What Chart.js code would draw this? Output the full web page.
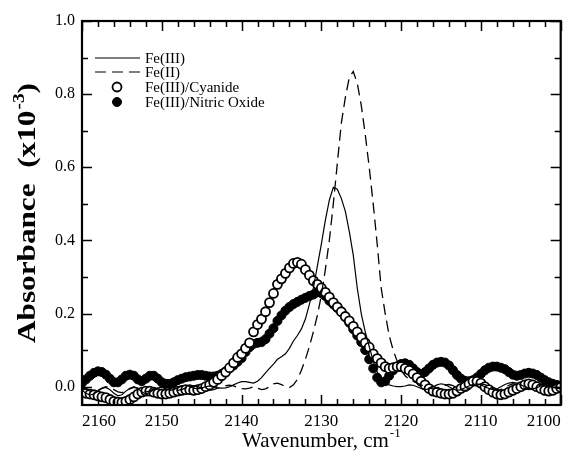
<!DOCTYPE html>
<html>
<head>
<meta charset="utf-8">
<script src="https://cdn.jsdelivr.net/npm/chart.js@4.4.1/dist/chart.umd.min.js"></script>
<style>
  html, body { margin: 0; padding: 0; background: #fff; }
</style>
</head>
<body>
<canvas id="myChart" width="567" height="455"></canvas>
<script>
// wavenumber grid (cm-1), every 0.5
var wavenumbers = [
  2160, 2159.5, 2159, 2158.5, 2158, 2157.5, 2157, 2156.5, 2156, 2155.5,
  2155, 2154.5, 2154, 2153.5, 2153, 2152.5, 2152, 2151.5, 2151, 2150.5,
  2150, 2149.5, 2149, 2148.5, 2148, 2147.5, 2147, 2146.5, 2146, 2145.5,
  2145, 2144.5, 2144, 2143.5, 2143, 2142.5, 2142, 2141.5, 2141, 2140.5,
  2140, 2139.5, 2139, 2138.5, 2138, 2137.5, 2137, 2136.5, 2136, 2135.5,
  2135, 2134.5, 2134, 2133.5, 2133, 2132.5, 2132, 2131.5, 2131, 2130.5,
  2130, 2129.5, 2129, 2128.5, 2128, 2127.5, 2127, 2126.5, 2126, 2125.5,
  2125, 2124.5, 2124, 2123.5, 2123, 2122.5, 2122, 2121.5, 2121, 2120.5,
  2120, 2119.5, 2119, 2118.5, 2118, 2117.5, 2117, 2116.5, 2116, 2115.5,
  2115, 2114.5, 2114, 2113.5, 2113, 2112.5, 2112, 2111.5, 2111, 2110.5,
  2110, 2109.5, 2109, 2108.5, 2108, 2107.5, 2107, 2106.5, 2106, 2105.5,
  2105, 2104.5, 2104, 2103.5, 2103, 2102.5, 2102, 2101.5, 2101, 2100.5,
  2100
];

// Fe(III) - solid line
var fe3 = [
  -0.010, -0.018, -0.022, -0.020, -0.012, -0.005, -0.002, -0.008, -0.018, -0.025,
  -0.022, -0.012, -0.004, 0.000, -0.005, -0.014, -0.020, -0.016, -0.008, -0.003,
  -0.002, -0.006, -0.010, -0.008, -0.003, 0.002, 0.004, 0.000, -0.004, -0.006,
  -0.003, 0.000, 0.002, 0.000, -0.003, -0.004, -0.003, 0.000, 0.005, 0.010,
  0.014, 0.014, 0.012, 0.010, 0.015, 0.025, 0.038, 0.050, 0.062, 0.075,
  0.082, 0.090, 0.105, 0.125, 0.140, 0.158, 0.185, 0.225, 0.270, 0.330,
  0.390, 0.455, 0.510, 0.545, 0.540, 0.515, 0.480, 0.425, 0.360, 0.270,
  0.200, 0.150, 0.110, 0.070, 0.040, 0.020, 0.010, 0.005, 0.002, 0.000,
  0.000, 0.002, 0.005, 0.004, 0.000, -0.005, -0.008, -0.006, 0.000, 0.005,
  0.008, 0.006, 0.000, -0.006, -0.010, -0.008, -0.003, 0.002, 0.006, 0.008,
  0.005, 0.000, -0.005, -0.008, -0.006, 0.000, 0.006, 0.010, 0.012, 0.010,
  0.005, 0.000, -0.004, -0.006, -0.003, 0.002, 0.006, 0.008, 0.005, 0.000,
  -0.004
];

// Fe(II) - dashed line
var fe2 = [
  0.000, -0.006, -0.012, -0.014, -0.010, -0.004, 0.000, -0.002, -0.008, -0.014,
  -0.016, -0.012, -0.006, -0.002, -0.004, -0.010, -0.014, -0.012, -0.006, 0.000,
  0.003, 0.002, -0.003, -0.008, -0.010, -0.008, -0.003, 0.000, 0.002, 0.000,
  -0.004, -0.008, -0.010, -0.008, -0.004, 0.000, 0.003, 0.004, 0.002, -0.002,
  -0.005, -0.006, -0.004, 0.000, -0.004, -0.008, -0.006, 0.000, 0.008, 0.010,
  0.006, 0.000, -0.002, 0.005, 0.020, 0.045, 0.075, 0.110, 0.150, 0.195,
  0.250, 0.320, 0.400, 0.500, 0.610, 0.720, 0.790, 0.845, 0.862, 0.830,
  0.770, 0.690, 0.600, 0.500, 0.390, 0.270, 0.200, 0.140, 0.100, 0.070,
  0.045, 0.030, 0.020, 0.015, 0.010, 0.005, 0.000, -0.004, -0.006, -0.004,
  0.000, 0.004, 0.006, 0.003, -0.003, -0.008, -0.010, -0.008, -0.002, 0.004,
  0.008, 0.006, 0.000, -0.006, -0.010, -0.008, -0.002, 0.004, 0.008, 0.006,
  0.000, -0.005, -0.008, -0.006, 0.000, 0.005, 0.008, 0.005, 0.000, -0.004,
  -0.006
];

// Fe(III)/Cyanide - open circles
var cyanide = [
  -0.015, -0.018, -0.020, -0.022, -0.025, -0.028, -0.030, -0.035, -0.040, -0.042,
  -0.043, -0.040, -0.035, -0.028, -0.020, -0.015, -0.012, -0.012, -0.015, -0.018,
  -0.020, -0.020, -0.018, -0.015, -0.012, -0.010, -0.008, -0.008, -0.010, -0.008,
  -0.005, 0.000, 0.005, 0.012, 0.020, 0.030, 0.040, 0.052, 0.065, 0.080,
  0.090, 0.105, 0.120, 0.150, 0.170, 0.185, 0.205, 0.230, 0.255, 0.280,
  0.295, 0.310, 0.325, 0.337, 0.340, 0.335, 0.320, 0.305, 0.290, 0.280,
  0.270, 0.258, 0.245, 0.230, 0.218, 0.205, 0.192, 0.180, 0.165, 0.150,
  0.135, 0.120, 0.108, 0.090, 0.077, 0.065, 0.055, 0.050, 0.052, 0.055,
  0.055, 0.050, 0.045, 0.035, 0.025, 0.015, 0.005, -0.005, -0.012, -0.015,
  -0.018, -0.020, -0.020, -0.018, -0.012, -0.005, 0.000, 0.008, 0.015, 0.015,
  0.010, 0.000, -0.008, -0.015, -0.020, -0.022, -0.020, -0.015, -0.010, -0.005,
  0.000, 0.005, 0.008, 0.005, 0.000, -0.005, -0.010, -0.012, -0.010, -0.005,
  -0.002
];

// Fe(III)/Nitric Oxide - filled circles
var nitricOxide = [
  0.010, 0.020, 0.030, 0.038, 0.042, 0.040, 0.033, 0.022, 0.012, 0.012,
  0.020, 0.030, 0.033, 0.030, 0.020, 0.015, 0.022, 0.030, 0.030, 0.022,
  0.012, 0.008, 0.008, 0.012, 0.018, 0.022, 0.026, 0.028, 0.030, 0.032,
  0.032, 0.030, 0.028, 0.028, 0.030, 0.035, 0.042, 0.050, 0.058, 0.068,
  0.078, 0.095, 0.108, 0.117, 0.120, 0.122, 0.130, 0.145, 0.160, 0.180,
  0.195, 0.208, 0.218, 0.226, 0.232, 0.238, 0.243, 0.248, 0.252, 0.258,
  0.256, 0.248, 0.235, 0.225, 0.215, 0.205, 0.190, 0.175, 0.157, 0.140,
  0.122, 0.100, 0.075, 0.050, 0.025, 0.012, 0.015, 0.030, 0.045, 0.055,
  0.062, 0.064, 0.060, 0.050, 0.040, 0.035, 0.040, 0.050, 0.060, 0.066,
  0.068, 0.066, 0.058, 0.045, 0.032, 0.022, 0.016, 0.015, 0.018, 0.025,
  0.035, 0.045, 0.052, 0.055, 0.055, 0.052, 0.048, 0.040, 0.033, 0.030,
  0.032, 0.036, 0.038, 0.036, 0.032, 0.025, 0.018, 0.012, 0.008, 0.005,
  0.003
];

var seriesNames = ['Fe(III)', 'Fe(II)', 'Fe(III)/Cyanide', 'Fe(III)/Nitric Oxide'];
var xTicks = [2100, 2110, 2120, 2130, 2140, 2150, 2160];
var yTicks = [0.0, 0.2, 0.4, 0.6, 0.8, 1.0];
var xTitle = ['Wavenumber, cm', '-1'];
var yTitle = ['Absorbance  (x10', '-3', ')'];

var serif = '"Liberation Serif", "Times New Roman", serif';

function pts(vals) {
  return wavenumbers.map(function (w, i) { return { x: w, y: vals[i] }; });
}

// box frame with inward ticks on all four sides
var frameTicks = {
  id: 'frameTicks',
  afterDatasetsDraw: function (chart) {
    var ctx = chart.ctx, a = chart.chartArea;
    var sx = chart.scales.x, sy = chart.scales.y;
    ctx.save();
    ctx.strokeStyle = '#000';
    ctx.lineWidth = 1.5;
    ctx.beginPath();
    for (var v = 2100; v <= 2160; v += 2) {
      var px = Math.round(sx.getPixelForValue(v)) + 0.5;
      var len = (v % 10 === 0) ? 10 : 6;
      ctx.moveTo(px, a.bottom); ctx.lineTo(px, a.bottom - len);
      ctx.moveTo(px, a.top); ctx.lineTo(px, a.top + len);
    }
    for (var k = 0; k <= 10; k++) {
      var py = Math.round(sy.getPixelForValue(k / 10)) + 0.5;
      var l2 = (k % 2 === 0) ? 10 : 6;
      ctx.moveTo(a.left, py); ctx.lineTo(a.left + l2, py);
      ctx.moveTo(a.right, py); ctx.lineTo(a.right - l2, py);
    }
    ctx.stroke();
    ctx.lineWidth = 2.2;
    ctx.strokeRect(a.left, a.top, a.right - a.left, a.bottom - a.top);
    ctx.restore();
  }
};

// axis titles with superscripts
var axisTitles = {
  id: 'axisTitles',
  afterDraw: function (chart) {
    var ctx = chart.ctx, a = chart.chartArea;
    ctx.save();
    ctx.fillStyle = '#000';
    ctx.textBaseline = 'alphabetic';
    ctx.textAlign = 'left';

    // x title
    var big = '21px ' + serif, small = '13px ' + serif;
    ctx.font = big; var w1 = ctx.measureText(xTitle[0]).width;
    ctx.font = small; var w2 = ctx.measureText(xTitle[1]).width;
    var x0 = (a.left + a.right) / 2 - (w1 + w2 + 1) / 2;
    var base = 447;
    ctx.font = big; ctx.fillText(xTitle[0], x0, base);
    ctx.font = small; ctx.fillText(xTitle[1], x0 + w1 + 1, base - 10);

    // y title, rotated and stretched along its length
    var bigB = 'bold 26px ' + serif, smallB = 'bold 16px ' + serif;
    ctx.font = bigB; var t1 = ctx.measureText(yTitle[0]).width;
    ctx.font = smallB; var t2 = ctx.measureText(yTitle[1]).width;
    ctx.font = bigB; var t3 = ctx.measureText(yTitle[2]).width;
    var total = t1 + t2 + t3 + 1;
    ctx.translate(35, (a.top + a.bottom) / 2);
    ctx.rotate(-Math.PI / 2);
    ctx.scale(1.2, 1);
    var s = -total / 2;
    ctx.font = bigB; ctx.fillText(yTitle[0], s, 0);
    ctx.font = smallB; ctx.fillText(yTitle[1], s + t1 + 1, -11);
    ctx.font = bigB; ctx.fillText(yTitle[2], s + t1 + t2 + 1, 0);
    ctx.restore();
  }
};

// legend drawn inside the plot, top left
var innerLegend = {
  id: 'innerLegend',
  afterDraw: function (chart) {
    var ctx = chart.ctx;
    var rows = [58, 72, 87, 102];
    ctx.save();
    ctx.font = '15px ' + serif;
    ctx.fillStyle = '#000';
    ctx.textBaseline = 'middle';
    chart.data.datasets.forEach(function (ds, i) {
      var y = rows[i];
      ctx.strokeStyle = '#000';
      if (ds.showLine) {
        ctx.lineWidth = 1.2;
        ctx.setLineDash(ds.borderDash || []);
        ctx.beginPath();
        ctx.moveTo(95, y); ctx.lineTo(140, y);
        ctx.stroke();
        ctx.setLineDash([]);
      } else {
        ctx.beginPath();
        ctx.arc(117, y, ds.pointRadius, 0, Math.PI * 2);
        ctx.fillStyle = ds.pointBackgroundColor;
        ctx.fill();
        ctx.lineWidth = ds.pointBorderWidth;
        ctx.stroke();
        ctx.fillStyle = '#000';
      }
      ctx.fillText(ds.label, 145, y + 1);
    });
    ctx.restore();
  }
};

const ctx = document.getElementById('myChart');

new Chart(ctx, {
  type: 'scatter',
  data: {
    datasets: [{
      label: seriesNames[0],
      data: pts(fe3),
      showLine: true,
      borderColor: '#000',
      borderWidth: 1.2,
      pointRadius: 0,
      order: 0
    }, {
      label: seriesNames[1],
      data: pts(fe2),
      showLine: true,
      borderColor: '#000',
      borderWidth: 1.3,
      borderDash: [11, 6],
      pointRadius: 0,
      order: 0
    }, {
      label: seriesNames[2],
      data: pts(cyanide),
      showLine: false,
      pointRadius: 4.5,
      pointBorderWidth: 1.8,
      pointBorderColor: '#000',
      pointBackgroundColor: '#fff',
      order: 1
    }, {
      label: seriesNames[3],
      data: pts(nitricOxide),
      showLine: false,
      pointRadius: 4.5,
      pointBorderWidth: 1,
      pointBorderColor: '#000',
      pointBackgroundColor: '#000',
      order: 2
    }]
  },
  options: {
    responsive: false,
    animation: false,
    layout: { padding: { top: 21, right: 5, left: 0, bottom: 0 } },
    plugins: {
      legend: { display: false },
      tooltip: { enabled: false }
    },
    scales: {
      x: {
        type: 'linear',
        reverse: true,
        min: 2100,
        max: 2160,
        grid: { display: false, drawTicks: false },
        border: { display: false },
        afterBuildTicks: function (s) { s.ticks = xTicks.map(function (v) { return { value: v }; }); },
        afterFit: function (s) { s.height = 50; },
        ticks: {
          align: 'inner',
          padding: 6,
          color: '#000',
          font: { family: serif, size: 17 },
          callback: function (v) { return String(v); }
        }
      },
      y: {
        min: -0.05,
        max: 1.0,
        grid: { display: false, drawTicks: false },
        border: { display: false },
        afterBuildTicks: function (s) { s.ticks = yTicks.map(function (v) { return { value: v }; }); },
        afterFit: function (s) { s.width = 82; },
        ticks: {
          padding: 7,
          color: '#000',
          font: { family: serif, size: 16 },
          callback: function (v) { return v.toFixed(1); }
        }
      }
    }
  },
  plugins: [frameTicks, axisTitles, innerLegend]
});
</script>
</body>
</html>
